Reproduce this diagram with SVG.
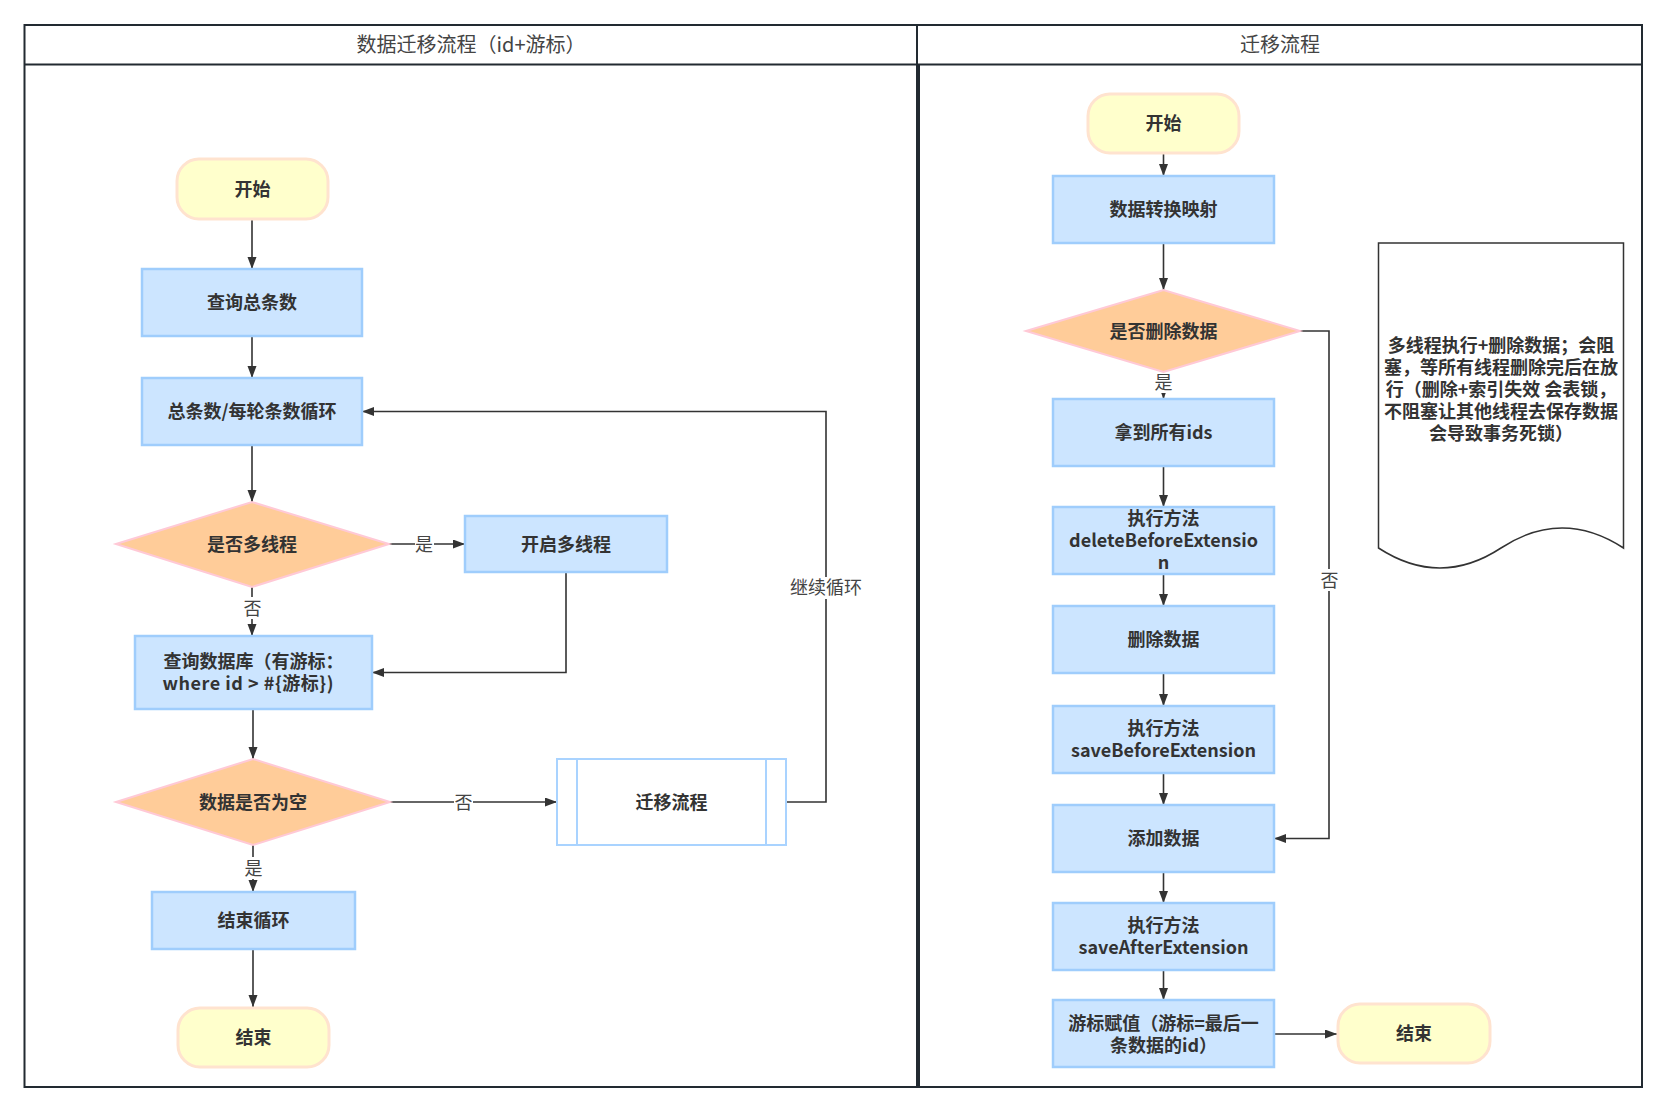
<svg xmlns="http://www.w3.org/2000/svg" width="1666" height="1111" viewBox="0 0 1666 1111">
<style>
text{font-family:"Noto Sans CJK SC","Noto Sans",sans-serif;fill:#333;}
.t{font-size:18px;font-weight:bold;text-anchor:middle;}
.h{font-size:20px;text-anchor:middle;fill:#444;}
.lb{font-size:18px;text-anchor:middle;fill:#444;}
.proc{fill:#cce5ff;stroke:#9fcdfc;stroke-width:2.5;}
.sub{fill:#fff;stroke:#a9d3ff;stroke-width:2;}
.term{fill:#ffffcc;stroke:#ffe3cf;stroke-width:3;}
.dec{fill:#ffcc99;stroke:#ffc9d6;stroke-width:2;}
.c{fill:none;stroke:#333;stroke-width:1.6;}
.bg{fill:#fff;}
</style>
<defs>
<marker id="a" markerUnits="userSpaceOnUse" markerWidth="13" markerHeight="10" refX="12" refY="4.5" orient="auto">
<path d="M0,0 L12,4.5 L0,9 z" fill="#333"/>
</marker>
</defs>
<rect width="1666" height="1111" fill="#fff"/>
<g id="lanes">
<rect x="24.5" y="25" width="1617.5" height="1062" fill="none" stroke="#222a31" stroke-width="2"/>
<line x1="24.5" y1="64.5" x2="1642" y2="64.5" stroke="#222a31" stroke-width="2"/>
<line x1="917" y1="25" x2="917" y2="64.5" stroke="#222a31" stroke-width="2"/>
<line x1="918" y1="64.5" x2="918" y2="1087" stroke="#222a31" stroke-width="4"/>
<text class="h" x="471" y="52">数据迁移流程（id+游标）</text>
<text class="h" x="1280" y="52">迁移流程</text>
</g>
<g id="connectors">
<line class="c" x1="252" y1="220" x2="252" y2="269" marker-end="url(#a)"/>
<line class="c" x1="252" y1="336" x2="252" y2="378" marker-end="url(#a)"/>
<line class="c" x1="252" y1="445" x2="252" y2="502" marker-end="url(#a)"/>
<line class="c" x1="389" y1="544" x2="465" y2="544" marker-end="url(#a)"/>
<line class="c" x1="252" y1="587" x2="252" y2="636" marker-end="url(#a)"/>
<polyline class="c" points="566,572 566,672.5 372,672.5" marker-end="url(#a)"/>
<line class="c" x1="253" y1="709" x2="253" y2="759" marker-end="url(#a)"/>
<line class="c" x1="390" y1="802" x2="557" y2="802" marker-end="url(#a)"/>
<line class="c" x1="253" y1="845" x2="253" y2="892" marker-end="url(#a)"/>
<line class="c" x1="253" y1="949" x2="253" y2="1007" marker-end="url(#a)"/>
<polyline class="c" points="786,802 826,802 826,411.5 362,411.5" marker-end="url(#a)"/>
<line class="c" x1="1163.5" y1="154" x2="1163.5" y2="176" marker-end="url(#a)"/>
<line class="c" x1="1163.5" y1="243" x2="1163.5" y2="290" marker-end="url(#a)"/>
<line class="c" x1="1163.5" y1="372" x2="1163.5" y2="399" marker-end="url(#a)"/>
<line class="c" x1="1163.5" y1="466" x2="1163.5" y2="507" marker-end="url(#a)"/>
<line class="c" x1="1163.5" y1="574" x2="1163.5" y2="606" marker-end="url(#a)"/>
<line class="c" x1="1163.5" y1="673" x2="1163.5" y2="706" marker-end="url(#a)"/>
<line class="c" x1="1163.5" y1="773" x2="1163.5" y2="805" marker-end="url(#a)"/>
<line class="c" x1="1163.5" y1="872" x2="1163.5" y2="903" marker-end="url(#a)"/>
<line class="c" x1="1163.5" y1="970" x2="1163.5" y2="1000" marker-end="url(#a)"/>
<line class="c" x1="1274" y1="1034" x2="1337" y2="1034" marker-end="url(#a)"/>
<polyline class="c" points="1300,331 1329,331 1329,838.5 1274,838.5" marker-end="url(#a)"/>
<rect class="bg" x="415" y="533" width="19" height="22"/>
<text class="lb" x="424" y="550.5">是</text>
<rect class="bg" x="243" y="597" width="19" height="22"/>
<text class="lb" x="252.5" y="614.5">否</text>
<rect class="bg" x="454" y="791" width="19" height="22"/>
<text class="lb" x="463.5" y="808.5">否</text>
<rect class="bg" x="244" y="857" width="19" height="22"/>
<text class="lb" x="253.5" y="874.5">是</text>
<rect class="bg" x="789" y="577" width="74" height="22"/>
<text class="lb" x="826" y="594">继续循环</text>
<rect class="bg" x="1154" y="371" width="19" height="22"/>
<text class="lb" x="1163.5" y="388.5">是</text>
<rect class="bg" x="1320" y="569" width="19" height="22"/>
<text class="lb" x="1329.5" y="586.5">否</text>
</g>
<g id="n-start-l"><rect class="term" x="177" y="159" width="151" height="60" rx="22"/><text class="t" x="252.5" y="195.5">开始</text></g>
<g id="n-count"><rect class="proc" x="142" y="269" width="220" height="67"/><text class="t" x="252" y="309">查询总条数</text></g>
<g id="n-loop"><rect class="proc" x="142" y="378" width="220" height="67"/><text class="t" x="252" y="418">总条数/每轮条数循环</text></g>
<g id="n-multi"><polygon class="dec" points="116,544 252,502 389,544 252,587"/><text class="t" x="252" y="550.5">是否多线程</text></g>
<g id="n-open"><rect class="proc" x="465" y="516" width="202" height="56"/><text class="t" x="566" y="550.5">开启多线程</text></g>
<g id="n-query"><rect class="proc" x="135" y="636" width="237" height="73"/><text class="t"><tspan x="253.5" y="668">查询数据库（有游标：</tspan><tspan x="248" y="690" textLength="171" lengthAdjust="spacing">where id &gt; #{游标})</tspan></text></g>
<g id="n-empty"><polygon class="dec" points="116,802 253,759 390,802 253,845"/><text class="t" x="253" y="808.5">数据是否为空</text></g>
<g id="n-migrate"><rect class="sub" x="557" y="759" width="229" height="86"/><line class="sub" x1="577" y1="759" x2="577" y2="845"/><line class="sub" x1="766" y1="759" x2="766" y2="845"/><text class="t" x="671.5" y="808.5">迁移流程</text></g>
<g id="n-endloop"><rect class="proc" x="152" y="892" width="203" height="57"/><text class="t" x="253.5" y="927">结束循环</text></g>
<g id="n-end-l"><rect class="term" x="178" y="1008" width="151" height="59" rx="22"/><text class="t" x="253.5" y="1044">结束</text></g>
<g id="n-start-r"><rect class="term" x="1088" y="94" width="151" height="59" rx="22"/><text class="t" x="1163.5" y="130">开始</text></g>
<g id="n-map"><rect class="proc" x="1053" y="176" width="221" height="67"/><text class="t" x="1163.5" y="216">数据转换映射</text></g>
<g id="n-del-q"><polygon class="dec" points="1026,331 1163.5,290 1300,331 1163.5,372"/><text class="t" x="1163.5" y="337.5">是否删除数据</text></g>
<g id="n-ids"><rect class="proc" x="1053" y="399" width="221" height="67"/><text class="t" x="1163.5" y="439">拿到所有ids</text></g>
<g id="n-dbe"><rect class="proc" x="1053" y="507" width="221" height="67"/><text class="t"><tspan x="1163.5" y="525">执行方法</tspan><tspan x="1163.5" y="547">deleteBeforeExtensio</tspan><tspan x="1163.5" y="569">n</tspan></text></g>
<g id="n-del"><rect class="proc" x="1053" y="606" width="221" height="67"/><text class="t" x="1163.5" y="646">删除数据</text></g>
<g id="n-sbe"><rect class="proc" x="1053" y="706" width="221" height="67"/><text class="t"><tspan x="1163.5" y="735">执行方法</tspan><tspan x="1163.5" y="757">saveBeforeExtension</tspan></text></g>
<g id="n-add"><rect class="proc" x="1053" y="805" width="221" height="67"/><text class="t" x="1163.5" y="845">添加数据</text></g>
<g id="n-sae"><rect class="proc" x="1053" y="903" width="221" height="67"/><text class="t"><tspan x="1163.5" y="932">执行方法</tspan><tspan x="1163.5" y="954">saveAfterExtension</tspan></text></g>
<g id="n-cursor"><rect class="proc" x="1053" y="1000" width="221" height="67"/><text class="t"><tspan x="1163.5" y="1029.5">游标赋值（游标=最后一</tspan><tspan x="1163.5" y="1051.5">条数据的id）</tspan></text></g>
<g id="n-end-r"><rect class="term" x="1338" y="1004" width="152" height="59" rx="22"/><text class="t" x="1414" y="1040">结束</text></g>
<g id="n-note"><path d="M1378.5,243 L1623.5,243 L1623.5,548 Q1562,508 1501,548 Q1440,588 1378.5,548 Z" fill="#fff" stroke="#333" stroke-width="1.5"/>
<text class="t"><tspan x="1501" y="351.5">多线程执行+删除数据；会阻</tspan><tspan x="1501" y="373.5">塞，等所有线程删除完后在放</tspan><tspan x="1501" y="395.5">行（删除+索引失效 会表锁，</tspan><tspan x="1501" y="417.5">不阻塞让其他线程去保存数据</tspan><tspan x="1501" y="439.5">会导致事务死锁）</tspan></text></g>
</svg>
